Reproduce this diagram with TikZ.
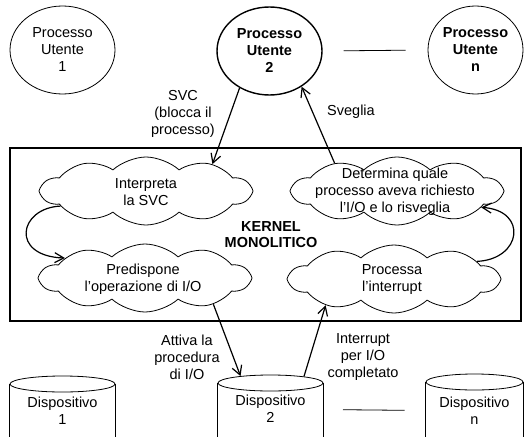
\documentclass[tikz,border=0pt]{standalone}
\usepackage{fontspec}
\setmainfont{Liberation Sans}
\usetikzlibrary{shapes.geometric,shapes.symbols,arrows.meta}

\begin{document}
\begin{tikzpicture}[x=1pt,y=-1pt,
    every node/.style={font=\fontsize{14.5}{17}\selectfont, align=center},
    proc/.style={ellipse, draw, line width=0.8pt, minimum width=105pt, minimum height=88pt, inner sep=0pt},
    kcloud/.style={cloud, draw, line width=0.8pt, cloud puffs=10, cloud puff arc=85, cloud ignores aspect, minimum width=209pt, minimum height=68pt, inner sep=0pt},
    diskcap/.style={ellipse, draw, line width=0.8pt, minimum height=16pt, inner sep=0pt},
    link/.style={->, line width=1.2pt},
    >={Straight Barb[length=9pt,width=10pt]}]
    \useasboundingbox (0,0) rectangle (524,436);
    \clip (0,0) rectangle (524,436);

    % processi utente
    \node[proc] (pu1) at (62.5,50) {Processo\\Utente\\1};
    \node[proc, line width=1.4pt, font=\fontsize{14.5}{17}\selectfont\bfseries] (pu2) at (269.5,51) {Processo\\Utente\\2};
    \node[proc, minimum width=95pt, font=\fontsize{14.5}{17}\selectfont\bfseries] (pun) at (475.5,50) {Processo\\Utente\\n};
    \draw[line width=0.8pt, shorten <=21pt, shorten >=22pt] (pu2.east) -- (pun.west);

    % kernel
    \node[draw, line width=1.6pt, minimum width=511pt, minimum height=173pt] (kernel) at (265.5,234.5) {};
    \node[font=\fontsize{14.5}{16}\selectfont\bfseries] (kname) at (271,234.5) {KERNEL\\MONOLITICO};

    \node[kcloud] (interp) at (146,191) {};
    \node (interpT) at (146,192) {Interpreta\\la SVC};
    \node[kcloud] (predisp) at (145,278) {};
    \node (predispT) at (143,279) {Predispone\\l'operazione di I/O};
    \node[kcloud] (determ) at (397,191) {};
    \node (determT) at (395,192) {Determina quale\\processo aveva richiesto\\l'I/O e lo risveglia};
    \node[kcloud] (process) at (394,279) {};
    \node (processT) at (392,280) {Processa\\l'interrupt};

    \draw[link] (interp.190) .. controls +(-42,2) and +(-55,-2) .. (predisp.166);
    \draw[link] (process.12) .. controls +(45,-2) and +(47,3) .. (determ.-11);

    % dispositivi
    \node[diskcap, minimum width=105pt] (cap1) at (62.5,384) {};
    \draw[line width=0.8pt] (cap1.west) -- ++(0,60) (cap1.east) -- ++(0,60);
    \node (d1) at (62.5,411) {Dispositivo\\1};
    \node[diskcap, minimum width=105pt] (cap2) at (270.5,383) {};
    \draw[line width=0.8pt] (cap2.west) -- ++(0,60) (cap2.east) -- ++(0,60);
    \node (d2) at (270.5,409) {Dispositivo\\2};
    \node[diskcap, minimum width=97pt] (capn) at (474.5,382) {};
    \draw[line width=0.8pt] (capn.west) -- ++(0,60) (capn.east) -- ++(0,60);
    \node (dn) at (474.5,411) {Dispositivo\\n};
    \draw[line width=0.8pt, shorten <=72.5pt, shorten >=70pt] (d2.center) -- (dn.center);

    % chiamate
    \draw[link] (pu2.231) -- (interp.22);
    \draw[link] (determ.156) -- (pu2.-48);
    \draw[link] (predisp.-21) -- (cap2.167);
    \draw[link] (cap2.11) -- (process.201);

    \node (svclab) at (183,114) {SVC\\(blocca il\\processo)};
    \node (sveglab) at (351,112) {Sveglia};
    \node (attlab) at (187,357) {Attiva la\\procedura\\di I/O};
    \node (intlab) at (363,357) {Interrupt\\per I/O\\completato};
\end{tikzpicture}
\end{document}
